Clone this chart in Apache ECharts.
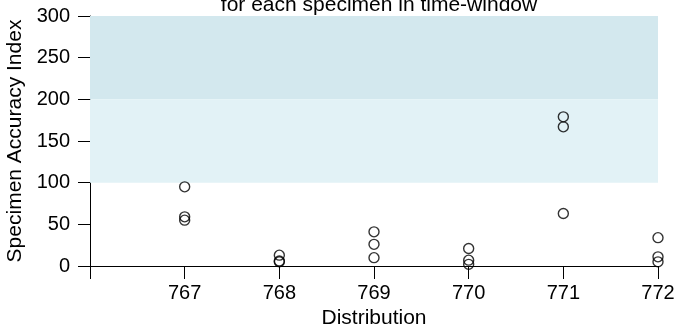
<!DOCTYPE html>
<html>
<head>
<meta charset="utf-8">
<script src="https://cdn.jsdelivr.net/npm/echarts@6/dist/echarts.min.js"></script>
<style>
  html, body { margin: 0; padding: 0; background: #ffffff; }
  #chart { width: 682px; height: 325px; }
</style>
</head>
<body>
<div id="chart"></div>
<script>
// Distributions on the x axis
const distributions = [767, 768, 769, 770, 771, 772];

// Specimen accuracy index values per distribution
const accuracy767 = [95, 59, 55];
const accuracy768 = [13, 6, 5];
const accuracy769 = [41, 26, 10];
const accuracy770 = [21, 7, 2];
const accuracy771 = [179, 167, 63];
const accuracy772 = [34, 11, 5];

// Shaded acceptance bands on the index scale
const bandLow = [100, 200];
const bandHigh = [200, 300];

const yTicks = [0, 50, 100, 150, 200, 250, 300];

const perDistribution = [accuracy767, accuracy768, accuracy769, accuracy770, accuracy771, accuracy772];
const points = [];
distributions.forEach((d, i) => {
  perDistribution[i].forEach(v => points.push([d, v]));
});

const font = 'Liberation Sans, Arial, Helvetica, sans-serif';

const chart = echarts.init(document.getElementById('chart'), null, { renderer: 'canvas' });
chart.setOption({
  animation: false,
  backgroundColor: '#ffffff',
  title: {
    text: 'for each specimen in time-window',
    left: 374,
    textAlign: 'center',
    top: -10,
    textStyle: { fontFamily: font, fontSize: 21, fontWeight: 'normal', color: '#000' }
  },
  grid: { left: 90, right: 24, top: 16, bottom: 59, containLabel: false, outerBoundsMode: 'none' },
  xAxis: {
    type: 'value',
    min: 766,
    max: 772,
    interval: 1,
    name: 'Distribution',
    nameLocation: 'middle',
    nameGap: 37,
    nameTextStyle: { fontFamily: font, fontSize: 21, color: '#000' },
    axisLine: { show: true, onZero: true, lineStyle: { color: '#000', width: 1 } },
    axisTick: { show: true, length: 13, inside: false, lineStyle: { color: '#000', width: 1 } },
    axisLabel: {
      margin: 17,
      fontFamily: font, fontSize: 20, color: '#000',
      formatter: v => (v === 766 ? '' : String(v))
    },
    splitLine: { show: false }
  },
  yAxis: {
    type: 'value',
    min: 0,
    max: 300,
    interval: 50,
    name: 'Specimen Accuracy Index',
    nameLocation: 'middle',
    nameGap: 59,
    nameTextStyle: { fontFamily: font, fontSize: 21, color: '#000' },
    axisLine: { show: true, lineStyle: { color: '#000', width: 1 } },
    axisTick: { show: true, length: 12, lineStyle: { color: '#000', width: 1 } },
    axisLabel: {
      margin: 20,
      fontFamily: font, fontSize: 20, color: '#000',
      customValues: yTicks
    },
    splitLine: { show: false }
  },
  series: [{
    type: 'scatter',
    data: points,
    symbol: 'circle',
    symbolSize: 10,
    itemStyle: { color: 'rgba(0,0,0,0)', borderColor: '#000', borderWidth: 1.4 },
    z: 5,
    markArea: {
      silent: true,
      data: [
        [{ yAxis: bandHigh[0], itemStyle: { color: '#d3e8ee' } }, { yAxis: bandHigh[1] }],
        [{ yAxis: bandLow[0], itemStyle: { color: '#e2f2f6' } }, { yAxis: bandLow[1] }]
      ]
    }
  }]
});
</script>
</body>
</html>
